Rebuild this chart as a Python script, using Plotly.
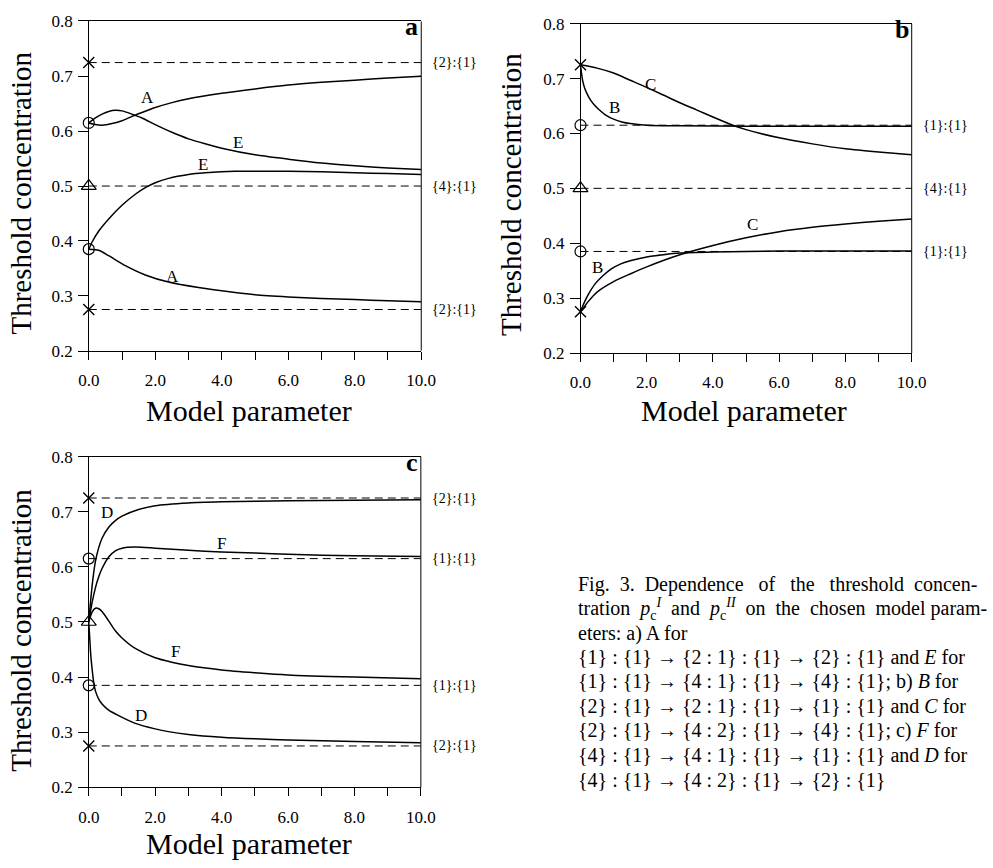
import plotly.graph_objects as go

# ---------------- data ----------------
levels_21 = [0.725, 0.275]      # {2}:{1}
levels_11 = [0.615, 0.385]      # {1}:{1}
level_41 = 0.5                  # {4}:{1}

x_ticks = [0, 2, 4, 6, 8, 10]
x_ticktext = ["0.0", "2.0", "4.0", "6.0", "8.0", "10.0"]
y_ticks = [0.2, 0.3, 0.4, 0.5, 0.6, 0.7, 0.8]
y_ticktext = ["0.2", "0.3", "0.4", "0.5", "0.6", "0.7", "0.8"]

# panel a
a_A_up_x = [0, 0.2, 0.4, 0.7, 1.0, 1.3, 1.6, 2, 2.5, 3, 4, 5, 6, 7, 8, 9, 10]
a_A_up_y = [0.615, 0.612, 0.611, 0.614, 0.619, 0.627, 0.634, 0.643, 0.652, 0.659, 0.669, 0.677, 0.684, 0.689, 0.693, 0.697, 0.700]
a_E_up_x = [0, 0.2, 0.4, 0.6, 0.8, 1.0, 1.3, 1.6, 2, 2.5, 3, 3.5, 4, 5, 6, 7, 8, 9, 10]
a_E_up_y = [0.615, 0.624, 0.631, 0.636, 0.638, 0.637, 0.631, 0.624, 0.612, 0.598, 0.586, 0.577, 0.569, 0.557, 0.549, 0.542, 0.537, 0.533, 0.530]
a_E_lo_x = [0, 0.1, 0.3, 0.6, 1.0, 1.4, 1.7, 2.0, 2.4, 3.0, 3.5, 4.4, 5, 6, 7, 8, 9, 10]
a_E_lo_y = [0.385, 0.398, 0.418, 0.440, 0.465, 0.485, 0.497, 0.506, 0.514, 0.521, 0.524, 0.527, 0.527, 0.527, 0.526, 0.524, 0.523, 0.521]
a_A_lo_x = [0, 0.3, 0.6, 1.1, 1.7, 2.4, 3.3, 4.4, 5, 6, 7, 8, 9, 10]
a_A_lo_y = [0.385, 0.383, 0.373, 0.355, 0.338, 0.325, 0.315, 0.306, 0.302, 0.298, 0.295, 0.293, 0.291, 0.289]

# panel b
b_C_up_x = [0, 0.5, 1, 1.5, 2, 2.5, 3, 3.5, 4, 4.6, 5, 6, 7, 8, 9, 10]
b_C_up_y = [0.725, 0.719, 0.710, 0.697, 0.684, 0.670, 0.656, 0.643, 0.630, 0.615, 0.607, 0.592, 0.581, 0.572, 0.566, 0.561]
b_B_up_x = [0, 0.03, 0.07, 0.13, 0.2, 0.3, 0.4, 0.53, 0.75, 1.0, 1.25, 1.5, 2, 3, 5, 10]
b_B_up_y = [0.725, 0.710, 0.695, 0.682, 0.672, 0.661, 0.653, 0.645, 0.634, 0.626, 0.621, 0.618, 0.615, 0.614, 0.613, 0.613]
b_C_lo_x = [0, 0.1, 0.25, 0.5, 1, 1.5, 2, 3, 4, 5, 6, 7, 8, 9, 10]
b_C_lo_y = [0.275, 0.283, 0.295, 0.311, 0.330, 0.344, 0.357, 0.379, 0.396, 0.410, 0.421, 0.429, 0.435, 0.440, 0.444]
b_B_lo_x = [0, 0.05, 0.13, 0.25, 0.43, 0.7, 0.92, 1.2, 1.5, 2, 2.5, 3, 4, 5, 7, 10]
b_B_lo_y = [0.275, 0.283, 0.294, 0.308, 0.325, 0.342, 0.353, 0.362, 0.368, 0.375, 0.379, 0.382, 0.384, 0.385, 0.386, 0.386]

# panel c
c_D_up_x = [0, 0.05, 0.1, 0.15, 0.2, 0.3, 0.4, 0.6, 0.8, 1.0, 1.5, 2, 3, 4, 6, 8, 10]
c_D_up_y = [0.5, 0.535, 0.565, 0.590, 0.610, 0.635, 0.652, 0.672, 0.684, 0.692, 0.704, 0.711, 0.716, 0.718, 0.720, 0.721, 0.722]
c_F_up_x = [0, 0.1, 0.2, 0.3, 0.4, 0.6, 0.8, 1.0, 1.4, 2, 3, 4, 5, 6, 8, 10]
c_F_up_y = [0.5, 0.535, 0.562, 0.582, 0.597, 0.618, 0.629, 0.634, 0.636, 0.634, 0.630, 0.627, 0.625, 0.623, 0.620, 0.619]
c_F_lo_x = [0, 0.1, 0.2, 0.3, 0.4, 0.6, 0.8, 1.0, 1.4, 2, 2.5, 3, 4, 5, 6, 8, 10]
c_F_lo_y = [0.5, 0.518, 0.525, 0.524, 0.519, 0.502, 0.484, 0.471, 0.452, 0.435, 0.427, 0.421, 0.413, 0.408, 0.404, 0.400, 0.397]
c_D_lo_x = [0, 0.03, 0.06, 0.1, 0.15, 0.2, 0.3, 0.4, 0.6, 0.9, 1.4, 2, 2.4, 3, 4, 5, 6, 8, 10]
c_D_lo_y = [0.5, 0.47, 0.44, 0.415, 0.39, 0.375, 0.36, 0.351, 0.34, 0.330, 0.316, 0.306, 0.301, 0.296, 0.291, 0.288, 0.286, 0.283, 0.281]

S2, S3 = "&nbsp; ", "&nbsp;&nbsp; "
caption_lines = [
    "Fig." + S2 + "3." + S2 + "Dependence" + S3 + "of" + S3 + "the" + S3 + "threshold" + S2 + "concen-",
    "tration" + S2 + "<i>p</i><sub>c</sub><sup><i>I</i></sup>" + S2 + "and" + S2 + "<i>p</i><sub>c</sub><sup><i>II</i></sup>"
    + S2 + "on" + S2 + "the" + S2 + "chosen" + S2 + "model param-",
    "eters: a) A for",
    "{1} : {1} → {2 : 1} : {1} → {2} : {1} and <i>E</i> for",
    "{1} : {1} → {4 : 1} : {1} → {4} : {1}; b) <i>B</i> for",
    "{2} : {1} → {2 : 1} : {1} → {1} : {1} and <i>C</i> for",
    "{2} : {1} → {4 : 2} : {1} → {4} : {1}; c) <i>F</i> for",
    "{4} : {1} → {4 : 1} : {1} → {1} : {1} and <i>D</i> for",
    "{4} : {1} → {4 : 2} : {1} → {2} : {1}",
]

# ---------------- layout helpers ----------------
W, H = 993, 868
FONT = "Liberation Serif, Times New Roman, serif"

def px_x(p):
    return p / W

def px_y(p):
    return 1 - p / H

panels = {
    "a": dict(ax="", xd=[79, 427.7], yd=[349.3, 12.7]),
    "b": dict(ax="2", xd=[578.3, 925.7], yd=[351.7, 15.0]),
    "c": dict(ax="3", xd=[79, 427.3], yd=[795.7, 457.7]),
}

fig = go.Figure()

curves = {
    "a": [(a_A_up_x, a_A_up_y), (a_E_up_x, a_E_up_y), (a_E_lo_x, a_E_lo_y), (a_A_lo_x, a_A_lo_y)],
    "b": [(b_C_up_x, b_C_up_y), (b_B_up_x, b_B_up_y), (b_C_lo_x, b_C_lo_y), (b_B_lo_x, b_B_lo_y)],
    "c": [(c_D_up_x, c_D_up_y), (c_F_up_x, c_F_up_y), (c_F_lo_x, c_F_lo_y), (c_D_lo_x, c_D_lo_y)],
}
dashed = {
    "a": [(levels_21[0], "{2}:{1}"), (level_41, "{4}:{1}"), (levels_21[1], "{2}:{1}")],
    "b": [(levels_11[0], "{1}:{1}"), (level_41, "{4}:{1}"), (levels_11[1], "{1}:{1}")],
    "c": [(levels_21[0], "{2}:{1}"), (levels_11[0], "{1}:{1}"), (levels_11[1], "{1}:{1}"), (levels_21[1], "{2}:{1}")],
}
curve_labels = {
    "a": [(1.78, 0.662, "A"), (4.49, 0.580, "E"), (3.45, 0.539, "E"), (2.52, 0.335, "A")],
    "b": [(2.11, 0.690, "C"), (1.02, 0.647, "B"), (5.18, 0.435, "C"), (0.52, 0.356, "B")],
    "c": [(0.54, 0.698, "D"), (4.0, 0.643, "F"), (2.62, 0.446, "F"), (1.58, 0.330, "D")],
}

annotations = []
shapes = []

for key, p in panels.items():
    ax = p["ax"]
    xr, yr = "x" + ax, "y" + ax
    # dashed reference lines
    for val, lab in dashed[key]:
        fig.add_trace(go.Scatter(x=[0, 10], y=[val, val], mode="lines",
                                 line=dict(color="black", width=1, dash="8px,5px"),
                                 xaxis=xr, yaxis=yr, showlegend=False, hoverinfo="skip"))
        annotations.append(dict(xref=xr + " domain", x=1, xshift=9, xanchor="left",
                                yref=yr, y=val, yanchor="middle", text=lab, showarrow=False,
                                font=dict(family=FONT, size=14, color="black")))
    # curves
    for cx, cy in curves[key]:
        fig.add_trace(go.Scatter(x=cx, y=cy, mode="lines",
                                 line=dict(color="black", width=1.5, shape="spline", smoothing=0.7),
                                 xaxis=xr, yaxis=yr, showlegend=False, hoverinfo="skip"))
    # markers at x = 0
    fig.add_trace(go.Scatter(x=[0, 0], y=levels_21, mode="markers",
                             marker=dict(symbol="x-thin", size=11, line=dict(color="black", width=1.4)),
                             xaxis=xr, yaxis=yr, showlegend=False, hoverinfo="skip"))
    fig.add_trace(go.Scatter(x=[0, 0], y=levels_11, mode="markers",
                             marker=dict(symbol="circle-open", size=11, color="black", line=dict(color="black", width=1.2)),
                             xaxis=xr, yaxis=yr, showlegend=False, hoverinfo="skip"))
    fig.add_trace(go.Scatter(x=[0], y=[level_41], mode="markers",
                             marker=dict(symbol="triangle-up-open", size=13, color="black", line=dict(color="black", width=1.2)),
                             xaxis=xr, yaxis=yr, showlegend=False, hoverinfo="skip"))
    # curve labels
    for lx, ly, lt in curve_labels[key]:
        annotations.append(dict(xref=xr, yref=yr, x=lx, y=ly, text=lt, showarrow=False,
                                font=dict(family=FONT, size=17, color="black")))
    # panel letter
    annotations.append(dict(xref=xr + " domain", yref=yr + " domain", x=1, y=1, xanchor="right",
                            yanchor="top", xshift=-1, yshift=11, text="<b>" + key + "</b>", showarrow=False,
                            font=dict(family=FONT, size=26, color="black")))
    # right frame line
    shapes.append(dict(type="line", xref=xr + " domain", yref=yr + " domain", x0=1, x1=1, y0=0, y1=1,
                       line=dict(color="black", width=1)))
    # axes
    fig.update_layout(**{
        "xaxis" + ax: dict(domain=[px_x(p["xd"][0]), px_x(p["xd"][1])], range=[-0.33, 10],
                           anchor=yr, tickmode="array", tickvals=x_ticks, ticktext=x_ticktext,
                           ticks="outside", ticklen=8, tickwidth=1, tickcolor="black",
                           minor=dict(ticks="outside", ticklen=8, tickwidth=1, tickcolor="black",
                                      tickmode="linear", tick0=0, dtick=1, showgrid=False),
                           showline=True, linecolor="black", linewidth=1, mirror=True,
                           showgrid=False, zeroline=True, zerolinecolor="black", zerolinewidth=1,
                           ticklabelstandoff=6,
                           tickfont=dict(family=FONT, size=17, color="black")),
        "yaxis" + ax: dict(domain=[px_y(p["yd"][0]), px_y(p["yd"][1])], range=[0.2, 0.8],
                           anchor=xr, tickmode="array", tickvals=y_ticks, ticktext=y_ticktext,
                           ticks="inside", ticklen=11, tickwidth=1, tickcolor="black",
                           showline=False, showgrid=False, zeroline=False,
                           ticklabelstandoff=4,
                           tickfont=dict(family=FONT, size=17, color="black")),
    })

# axis titles
ytitles = [(21, 188), (519, 190), (21, 635)]
xtitles = [(253, 410), (755, 410), (253, 853)]
for (xx, yy) in ytitles:
    annotations.append(dict(xref="paper", yref="paper", x=px_x(xx), y=px_y(yy), text="Threshold concentration",
                            textangle=-90, showarrow=False, xanchor="center", yanchor="middle",
                            font=dict(family=FONT, size=29, color="black")))
for (xx, yy) in xtitles:
    annotations.append(dict(xref="paper", yref="paper", x=px_x(xx), y=px_y(yy), text="Model parameter",
                            showarrow=False, xanchor="center", yanchor="middle",
                            font=dict(family=FONT, size=30, color="black")))

# caption
cap_y0, cap_dy = 588, 25
for i, line in enumerate(caption_lines):
    annotations.append(dict(xref="paper", yref="paper", x=px_x(585), y=px_y(cap_y0 + i * cap_dy),
                            xanchor="left", yanchor="middle", text=line, showarrow=False, align="left",
                            font=dict(family=FONT, size=20, color="black")))

fig.update_layout(width=W, height=H, margin=dict(l=0, r=0, t=0, b=0),
                  paper_bgcolor="white", plot_bgcolor="white",
                  annotations=annotations, shapes=shapes, showlegend=False,
                  font=dict(family=FONT, color="black"))

fig.write_html("out.html")
